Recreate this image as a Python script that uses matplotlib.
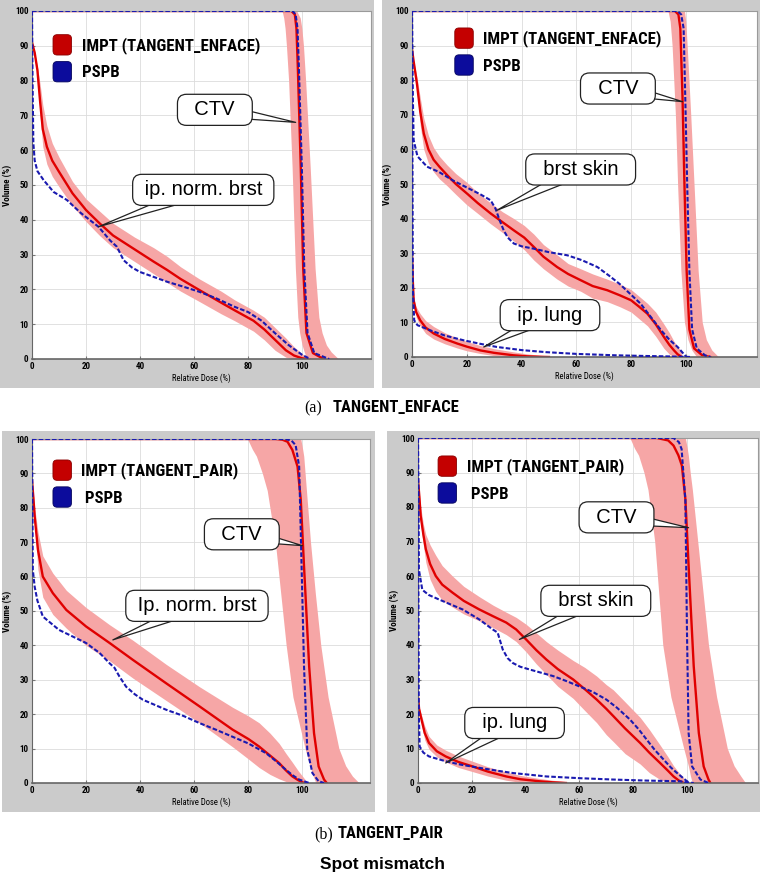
import matplotlib
matplotlib.use("Agg")
import matplotlib.pyplot as plt
import matplotlib.font_manager as fm
from matplotlib.patches import Rectangle, FancyBboxPatch, Patch
from matplotlib.legend_handler import HandlerPatch

# ---------------- data ----------------
# Panel 1: TANGENT_ENFACE, ip. norm. brst + CTV
p1_norm_dose = [0, 1, 2, 3, 4, 5.5, 7.5, 10, 15, 20, 25, 30, 38, 45, 50, 55, 62, 70, 75, 82, 86, 90, 94, 97, 100, 102]
p1_norm_impt = [91, 88, 83, 74, 66, 61, 57, 53.8, 47.6, 42.8, 39, 35.5, 31.5, 28, 25.6, 23, 19.8, 16.2, 14, 11, 8.5, 5.5, 2.5, 1, 0.2, 0]
p1_norm_hi = [91, 88, 84, 79, 73, 67, 62, 58, 51, 46, 42.5, 39, 35, 32, 29.5, 26.5, 23, 19.5, 17, 14, 12, 9, 6, 3.5, 1.5, 0.5]
p1_norm_lo = [91, 88, 82, 70, 61, 56, 52.5, 49.5, 44, 39.5, 35.5, 32, 28, 24.5, 22, 19.5, 16.5, 13, 11, 8, 5.5, 2.5, 0.5, 0, 0, 0]
p1_norm_pspb_dose = [0, 0.2, 0.5, 1, 2, 4.3, 8, 12.9, 18, 24.6, 29, 31.4, 33.9, 37, 40, 45, 50, 56, 62, 68, 75, 80, 85, 90, 95, 100, 103]
p1_norm_pspb = [100, 80, 62, 57, 54, 51.4, 48, 45.7, 42, 38, 34, 32.3, 28.4, 26.3, 25, 23.6, 22.2, 20.8, 19.3, 17.5, 15, 13.5, 11, 7.4, 4, 1.2, 0]
p1_ctv_impt_dose = [0, 96.0, 97.3, 97.9, 98.4, 99.5, 100.4, 101.6, 104, 108]
p1_ctv_impt = [100, 100, 99, 95, 84, 55, 26, 7.5, 1.7, 0]
p1_ctv_pspb_dose = [0, 96.5, 97.6, 98.3, 98.8, 99.9, 100.8, 102, 104.5, 110]
p1_ctv_pspb = [100, 100, 99, 95, 84, 55, 26, 7.5, 1.7, 0]
p1_ctv_band_vol = [100, 98, 95, 90, 80, 55, 26, 12, 7.5, 4, 2, 0]
p1_ctv_band_lo = [92.6, 93.2, 93.7, 94.2, 95, 96.3, 97.5, 98.4, 99.1, 100, 100.8, 101.8]
p1_ctv_band_hi = [98, 99.3, 99.9, 100.5, 101.3, 103, 104.8, 106.2, 107.4, 109, 110.8, 113.5]

# Panel 2: TANGENT_ENFACE, brst skin + ip. lung + CTV
p2_skin_dose = [0, 0.5, 1.8, 3, 4.3, 6, 7.9, 10, 12.8, 16, 20, 24, 28.7, 33, 37.2, 41, 44.5, 48, 53, 57, 61.6, 66, 71.3, 76, 80, 83, 86, 89, 92, 94, 95.7, 97, 98.5]
p2_skin_impt = [89, 86, 79, 71, 64.6, 60, 57, 55, 52.6, 50, 47.3, 44.5, 41.5, 39, 36.6, 34.5, 31.8, 29, 26, 24, 22.2, 20.5, 19.3, 17.8, 16.4, 14.5, 12.5, 9.5, 5.8, 3.5, 1.9, 0.8, 0]
p2_skin_hi = [89, 86, 81, 75, 69, 64, 60.5, 58, 55.5, 53, 50.5, 47.5, 44.5, 42, 40, 38, 35.5, 32.5, 29.5, 27, 25.5, 24, 22.5, 21, 19.5, 17.5, 15.5, 13, 9.5, 7, 4.5, 3, 1.5]
p2_skin_lo = [89, 86, 77, 67, 60, 56, 53.5, 51.5, 49.5, 47, 44, 41.5, 38.5, 36, 33.5, 31, 28, 25.5, 22.5, 20.5, 19, 17, 16, 14.5, 13, 11, 9, 6, 2.5, 0.8, 0, 0, 0]
p2_skin_pspb_dose = [0, 0.2, 0.6, 2, 5.5, 9.8, 15, 20, 25, 28.7, 30.5, 32, 33.5, 35, 37.2, 40, 44.5, 50, 56.7, 62, 67.7, 72, 76, 80, 83.5, 87, 91, 94, 97, 100]
p2_skin_pspb = [100, 80, 62.7, 58, 55, 53.5, 51, 49, 47, 45.3, 42.9, 39.5, 36.6, 34.5, 32.8, 32, 31.3, 30.3, 29.4, 28, 26, 23.5, 21, 18, 15.4, 11.8, 7.7, 5, 2.9, 0.2]
p2_lung_dose = [0, 0.3, 0.6, 1.5, 3, 5, 7.9, 12, 16.5, 20, 25, 30, 37, 42, 47, 50]
p2_lung_impt = [30, 22, 16.4, 13, 10.6, 8.5, 6.8, 5.2, 3.9, 3, 1.9, 1.2, 0.5, 0.2, 0.05, 0]
p2_lung_hi = [30, 22, 17, 14.5, 12.5, 10.5, 8.8, 7, 5.5, 4.5, 3.3, 2.4, 1.5, 0.9, 0.5, 0.3]
p2_lung_lo = [30, 22, 16, 11.5, 9, 6.8, 5.2, 3.8, 2.6, 1.8, 1, 0.4, 0, 0, 0, 0]
p2_lung_pspb_dose = [0, 0.3, 0.8, 2, 6.7, 12, 19, 25, 31, 40, 49, 60, 74, 85, 92, 100, 102]
p2_lung_pspb = [100, 20, 10.6, 9.2, 7.7, 6.2, 4.8, 3.8, 2.9, 2, 1.4, 0.9, 0.5, 0.3, 0.2, 0.05, 0]
p2_ctv_impt_dose = [0, 96, 97.3, 98, 98.8, 99.5, 100.3, 101.3, 103, 106, 109]
p2_ctv_impt = [100, 100, 99, 95, 75, 50, 25, 8, 2.5, 0.5, 0]
p2_ctv_pspb_dose = [0, 97, 98.3, 99.2, 99.8, 100.5, 101.3, 102.3, 104, 107, 109]
p2_ctv_pspb = [100, 100, 99, 95, 75, 50, 25, 8, 2.5, 0.5, 0]
p2_ctv_band_vol = [100, 97, 90, 70, 50, 25, 10, 5, 2, 0]
p2_ctv_band_lo = [93.5, 94.3, 95, 96.2, 97, 98.2, 99.5, 100.8, 102.2, 104]
p2_ctv_band_hi = [99.5, 100, 100.5, 101.8, 103, 104.5, 106, 107.5, 109.5, 112]

# Panel 3: TANGENT_PAIR, Ip. norm. brst + CTV
p3_norm_dose = [0, 0.5, 1, 2.2, 4, 7.7, 12.7, 20, 28.7, 37.3, 49.6, 61.9, 74.2, 80, 84, 88, 91.4, 94, 96.3, 98.5, 100, 101]
p3_norm_impt = [88, 83, 77.4, 67.8, 60, 55.2, 50.3, 45.5, 40.7, 35.8, 29, 22.3, 15.5, 12.8, 10.6, 8, 5.8, 3.6, 1.9, 0.8, 0.2, 0]
p3_norm_hi = [88, 84, 80, 73, 66, 61, 56, 51, 46, 41.5, 34.5, 28, 22, 19.5, 17.5, 14.5, 11.5, 8.5, 6, 3.5, 2, 1]
p3_norm_lo = [88, 82, 75, 62, 54, 49, 45, 40, 35.5, 30.5, 24, 17.5, 10.5, 7, 4.5, 2.5, 1.2, 0.4, 0, 0, 0, 0]
p3_norm_pspb_dose = [0, 0.3, 1, 2, 4, 10, 20, 25, 28.7, 30.5, 32.3, 34.8, 38, 41, 49.6, 56, 62, 68, 74, 80, 86.5, 90, 93.8, 96.5, 98.8, 102.5]
p3_norm_pspb = [100, 62, 57, 53, 48.4, 44.5, 40.7, 37.8, 34.8, 33.5, 31, 28, 25.8, 24.2, 21.3, 19.5, 17.4, 15.5, 13.5, 11.5, 8.7, 6.5, 3.9, 2.2, 1, 0]
p3_ctv_impt_dose = [0, 90, 92.6, 94.5, 96.3, 98.2, 99.4, 100.6, 102.5, 104.3, 106, 108, 109]
p3_ctv_impt = [100, 100, 99.8, 99.2, 96.8, 92, 82.3, 63, 33.9, 14.5, 4.8, 1, 0]
p3_ctv_pspb_dose = [0, 93.8, 96, 97.5, 98.8, 99.4, 100.6, 101.8, 103.7, 106, 108]
p3_ctv_pspb = [100, 100, 99.5, 98.2, 92, 72.6, 33.9, 9.7, 2.9, 0.5, 0]
p3_ctv_band_vol = [100, 97, 95, 90, 85, 70, 55, 40, 25, 10, 5, 2, 0]
p3_ctv_band_lo = [79.7, 81.5, 83, 85.2, 87, 90, 92, 94, 96.5, 101, 102.8, 104, 105]
p3_ctv_band_hi = [99.4, 100.1, 100.5, 101, 101.5, 103, 104.8, 106.8, 109.5, 113.5, 116, 118.5, 121]

# Panel 4: TANGENT_PAIR, brst skin + ip. lung + CTV
p4_skin_dose = [0, 0.5, 1, 2, 2.9, 4.5, 6.6, 9, 12.8, 17, 22.8, 28, 32.8, 36.5, 40.2, 44, 47.7, 52, 57.7, 62, 66.4, 70, 72.6, 77, 82.6, 86, 90, 93, 95, 97, 98.8]
p4_skin_impt = [88, 83, 77.4, 72, 67.8, 63.5, 60, 57.5, 55.2, 52.8, 50.3, 48.3, 46.5, 44.5, 41.6, 38.5, 35.8, 33, 30, 27.2, 24.2, 21.5, 19.4, 15.8, 11.6, 8.8, 5.8, 3.5, 1.9, 0.7, 0]
p4_skin_hi = [88, 84, 80, 75, 72, 69, 66, 63, 60, 57, 54, 51.5, 49.5, 48, 46, 43.5, 41, 38.5, 35.5, 33.5, 31, 28.5, 27, 23.5, 19, 15.5, 11, 7.5, 5, 3, 1.5]
p4_skin_lo = [88, 82, 75, 69, 64, 59, 55.5, 53, 51, 49, 47, 45, 43, 41, 38, 34.5, 31.5, 28, 24.5, 21, 17.5, 14, 12, 8.5, 5.5, 3, 1, 0.3, 0, 0, 0]
p4_skin_pspb_dose = [0, 0.3, 1.6, 4, 7.8, 12, 16.6, 22.8, 27.8, 29.6, 31.5, 33.3, 35.2, 38, 41.5, 50.2, 55, 60, 65, 70, 74, 78.8, 82, 85, 88, 91.3, 94, 96.3, 100, 101]
p4_skin_pspb = [100, 62, 56, 54.5, 53.2, 51.8, 50.3, 47.4, 44.5, 43.6, 38.7, 36.2, 34.8, 33.7, 32.9, 31, 29.6, 28, 26.4, 24.2, 21.8, 18.4, 15.6, 12.6, 9.6, 6.8, 4.5, 2.9, 0.5, 0]
p4_lung_dose = [0, 0.4, 1, 2.5, 4.1, 7, 10.3, 15, 20.3, 26, 32.8, 38, 45.2, 50, 55]
p4_lung_impt = [25, 21.5, 19.4, 14.5, 11.6, 9.2, 7.7, 6.1, 4.8, 3.3, 1.9, 1.1, 0.5, 0.2, 0]
p4_lung_hi = [25, 22, 20.5, 16.5, 13.5, 11, 9.5, 7.8, 6.3, 4.7, 3.2, 2.2, 1.3, 0.8, 0.4]
p4_lung_lo = [25, 21, 18, 12.5, 9.8, 7.6, 6.1, 4.5, 3.3, 2, 0.8, 0.2, 0, 0, 0]
p4_lung_pspb_dose = [0, 0.3, 0.6, 2, 4.1, 10.3, 16, 22.8, 30, 35.2, 47.7, 60, 72.6, 85, 97.5, 100, 102.5]
p4_lung_pspb = [100, 20, 10.6, 8.8, 7.7, 6.3, 5.3, 4.4, 3.5, 2.9, 1.9, 1.4, 1, 0.7, 0.5, 0.2, 0]
p4_ctv_impt_dose = [0, 88.8, 93, 95, 96.8, 98.1, 99.4, 100.6, 102.5, 104.4, 106.2, 108, 108.7]
p4_ctv_impt = [100, 100, 99.3, 97.8, 95, 92, 82.3, 63, 33.9, 14.5, 4.8, 1, 0]
p4_ctv_pspb_dose = [0, 95, 97, 98, 99.4, 100, 100.6, 101.9, 105, 108]
p4_ctv_pspb = [100, 100, 98.8, 96.8, 82, 43.6, 14.5, 4.8, 1, 0]
p4_ctv_band_vol = [100, 97, 95, 90, 85, 70, 55, 40, 25, 10, 5, 2, 0]
p4_ctv_band_lo = [78.8, 80.5, 82, 84, 85.5, 88, 89.5, 91, 94, 98.8, 100.5, 101.3, 102]
p4_ctv_band_hi = [99.4, 100.1, 100.5, 101.2, 102, 104, 106, 108, 111, 115, 117.5, 120, 121.8]

x_ticks = [0, 20, 40, 60, 80, 100]
y_ticks = [0, 10, 20, 30, 40, 50, 60, 70, 80, 90, 100]
legend_labels_a = ["IMPT (TANGENT_ENFACE)", "PSPB"]
legend_labels_b = ["IMPT (TANGENT_PAIR)", " PSPB"]

# ---------------- style ----------------
W, H = 760, 876
GRAY = "#cbcbcb"
RED = "#e00000"
BLUE = "#1a1ab0"
PINK = "#f6a6a6"

_avail = {f.name for f in fm.fontManager.ttflist}
_narrow = None
for _cand in ["Liberation Sans Narrow", "Arial Narrow", "Roboto Condensed",
              "Open Sans Condensed", "Noto Sans Condensed"]:
    if _cand in _avail:
        _narrow = _cand
        break
if _narrow:
    NARROW = [_narrow, "DejaVu Sans"]
    NS = 1.0
else:
    NARROW = ["Liberation Sans", "DejaVu Sans"]
    NS = 0.86
SANS = ["Liberation Sans", "DejaVu Sans"]
SERIF = ["Liberation Serif", "DejaVu Serif"]

fig = plt.figure(figsize=(W / 100, H / 100), dpi=100)
fig.patch.set_facecolor("white")


def frect(x0, y0, x1, y1):
    fig.add_artist(Rectangle((x0 / W, 1 - y1 / H), (x1 - x0) / W, (y1 - y0) / H,
                             transform=fig.transFigure, facecolor=GRAY,
                             edgecolor="none", zorder=0))


def add_axes(l, t, r, b):
    return fig.add_axes([l / W, 1 - b / H, (r - l) / W, (b - t) / H])


frect(0, 0, 374, 388)
frect(382, 0, 760, 388)
frect(2, 431, 375, 812)
frect(387, 431, 760, 812)


class RoundHandler(HandlerPatch):
    def create_artists(self, legend, orig_handle, xdescent, ydescent, width,
                       height, fontsize, trans):
        p = FancyBboxPatch((-xdescent, -ydescent), width, height,
                           boxstyle="round,pad=0,rounding_size=3",
                           facecolor=orig_handle.get_facecolor(),
                           edgecolor=orig_handle.get_edgecolor(), lw=0.6,
                           transform=trans)
        return [p]


def panel(ax, xmax, wpx, hpx, norms, ctv, labels, anchor, callouts):
    ax.set_xlim(0, xmax)
    ax.set_ylim(0, 100)
    ax.set_xticks(x_ticks)
    ax.set_yticks(y_ticks)
    ax.grid(True, color="#dcdcdc", lw=0.6)
    ax.set_axisbelow(True)
    for lab in ax.get_xticklabels() + ax.get_yticklabels():
        lab.set_family(NARROW)
        lab.set_fontweight("bold")
        lab.set_fontsize(6.5 * (NS + 1) / 2)
    ax.tick_params(length=2, direction="in", color="#777777", pad=2.5)
    for s in ax.spines.values():
        s.set_color("#9a9a9a")
        s.set_linewidth(0.8)
    ax.spines["left"].set_color("#666666")
    ax.spines["bottom"].set_color("#666666")
    ax.spines["bottom"].set_linewidth(1.2)
    ax.set_xlabel("Relative Dose (%)", family=NARROW, fontsize=6.2 * (NS + 1) / 2)
    ax.set_ylabel("Volume (%)", family=NARROW, fontsize=6.5 * (NS + 1) / 2, fontweight="bold")
    ax.xaxis.set_label_coords(0.5, -14.5 / hpx)
    ax.yaxis.set_label_coords(-19.5 / wpx, 0.5)

    # bands
    for (d, v, lo, hi, pd, pv) in norms:
        ax.fill_between(d, lo, hi, color=PINK, lw=0, zorder=1)
    cv, clo, chi = ctv[4], ctv[5], ctv[6]
    ax.fill_betweenx(cv, clo, chi, color=PINK, lw=0, zorder=1)
    # IMPT lines
    for (d, v, lo, hi, pd, pv) in norms:
        ax.plot(d, v, color=RED, lw=1.7, zorder=2)
    ax.plot(ctv[0], ctv[1], color=RED, lw=1.7, zorder=2)
    # PSPB lines
    for (d, v, lo, hi, pd, pv) in norms:
        ax.plot(pd, pv, color=BLUE, lw=1.5, ls=(0, (2.2, 1.0)), zorder=3)
    ax.plot(ctv[2], ctv[3], color=BLUE, lw=1.5, ls=(0, (2.2, 1.0)), zorder=3)

    handles = [Patch(facecolor="#c40000", edgecolor="#8a0000"),
               Patch(facecolor="#0c0c9c", edgecolor="#05055e")]
    fs = 12.1 * NS
    ax.legend(handles, labels, loc="upper left", bbox_to_anchor=anchor,
              frameon=False, borderpad=0, borderaxespad=0,
              handlelength=18.5 / (fs * 1.389), handleheight=25 / (fs * 1.389),
              handletextpad=10 / (fs * 1.389),
              labelspacing=6.5 / (fs * 1.389),
              prop={"family": NARROW, "weight": "bold", "size": fs},
              handler_map={Patch: RoundHandler()})

    for (txt, xy, xyt) in callouts:
        ax.annotate(txt, xy=xy, xytext=xyt, ha="center", va="center",
                    fontsize=14.5, family=SANS, zorder=5,
                    bbox=dict(boxstyle="round,pad=0.3,rounding_size=0.45",
                              fc="white", ec="#222222", lw=0.9),
                    arrowprops=dict(arrowstyle="wedge,tail_width=0.7,shrink_factor=0.5",
                                    fc="white", ec="#222222", lw=0.9,
                                    shrinkA=0, shrinkB=0, patchA=None))


ax1 = add_axes(32, 11, 371, 359)
panel(ax1, 125.5, 339, 348,
      [(p1_norm_dose, p1_norm_impt, p1_norm_lo, p1_norm_hi, p1_norm_pspb_dose, p1_norm_pspb)],
      (p1_ctv_impt_dose, p1_ctv_impt, p1_ctv_pspb_dose, p1_ctv_pspb,
       p1_ctv_band_vol, p1_ctv_band_lo, p1_ctv_band_hi),
      legend_labels_a, (0.062, 0.932),
      [("  CTV  ", (97.6, 68), (67.7, 71.6)),
       (" ip. norm. brst ", (24.6, 38), (63.4, 48.6))])

ax2 = add_axes(412, 11, 757, 357)
panel(ax2, 126, 345, 346,
      [(p2_skin_dose, p2_skin_impt, p2_skin_lo, p2_skin_hi, p2_skin_pspb_dose, p2_skin_pspb),
       (p2_lung_dose, p2_lung_impt, p2_lung_lo, p2_lung_hi, p2_lung_pspb_dose, p2_lung_pspb)],
      (p2_ctv_impt_dose, p2_ctv_impt, p2_ctv_pspb_dose, p2_ctv_pspb,
       p2_ctv_band_vol, p2_ctv_band_lo, p2_ctv_band_hi),
      legend_labels_a, (0.124, 0.951),
      [("  CTV  ", (98.8, 73.8), (75.2, 77.6)),
       ("  brst skin  ", (31, 42.4), (61.6, 54.2)),
       ("  ip. lung  ", (26.2, 2.9), (50.4, 12.1))])

ax3 = add_axes(32, 439, 370, 783)
panel(ax3, 125, 338, 344,
      [(p3_norm_dose, p3_norm_impt, p3_norm_lo, p3_norm_hi, p3_norm_pspb_dose, p3_norm_pspb)],
      (p3_ctv_impt_dose, p3_ctv_impt, p3_ctv_pspb_dose, p3_ctv_pspb,
       p3_ctv_band_vol, p3_ctv_band_lo, p3_ctv_band_hi),
      legend_labels_b, (0.062, 0.939),
      [("  CTV  ", (100, 69), (77.6, 72.3)),
       (" Ip. norm. brst ", (29.9, 41.6), (61, 51.5))])

ax4 = add_axes(418, 438, 758, 783)
panel(ax4, 126.4, 340, 345,
      [(p4_skin_dose, p4_skin_impt, p4_skin_lo, p4_skin_hi, p4_skin_pspb_dose, p4_skin_pspb),
       (p4_lung_dose, p4_lung_impt, p4_lung_lo, p4_lung_hi, p4_lung_pspb_dose, p4_lung_pspb)],
      (p4_ctv_impt_dose, p4_ctv_impt, p4_ctv_pspb_dose, p4_ctv_pspb,
       p4_ctv_band_vol, p4_ctv_band_lo, p4_ctv_band_hi),
      legend_labels_b, (0.059, 0.948),
      [("  CTV  ", (100.6, 74), (73.8, 77)),
       ("  brst skin  ", (37.7, 41.6), (66.1, 52.8)),
       ("  ip. lung  ", (10.3, 5.8), (35.9, 17.4))])

# captions
fig.text(313 / W, 1 - 408 / H, "(a)", family=SERIF, fontsize=11.5, ha="center", va="center")
fig.text(333 / W, 1 - 408 / H, "TANGENT_ENFACE", family=NARROW, fontweight="bold",
         fontsize=12 * NS, ha="left", va="center")
fig.text(324 / W, 1 - 834 / H, "(b)", family=SERIF, fontsize=11.5, ha="center", va="center")
fig.text(338 / W, 1 - 834 / H, "TANGENT_PAIR", family=NARROW, fontweight="bold",
         fontsize=12 * NS, ha="left", va="center")
fig.text(382 / W, 1 - 865 / H, "Spot mismatch", family=SANS, fontweight="bold",
         fontsize=12.5, ha="center", va="center")

fig.savefig("out.png", dpi=100)
